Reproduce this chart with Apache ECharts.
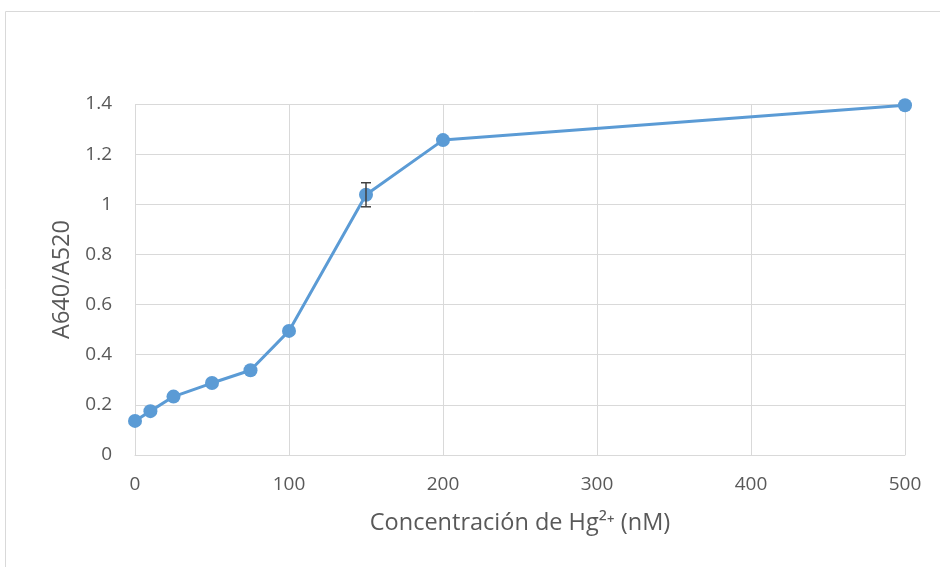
<!DOCTYPE html>
<html><head><meta charset="utf-8">
<script src="https://cdn.jsdelivr.net/npm/echarts@6/dist/echarts.min.js"></script>
<style>html,body{margin:0;padding:0;background:#fff}#c{width:940px;height:567px}</style>
</head><body><div id="c"></div>
<script>
const concentrations = [0, 10, 25, 50, 75, 100, 150, 200, 500];
const ratios = [0.136, 0.175, 0.233, 0.287, 0.338, 0.495, 1.038, 1.256, 1.395];
const errors = [0, 0, 0, 0, 0, 0, 0.048, 0, 0];
const xTicks = [0, 100, 200, 300, 400, 500];
const yTicks = [0, 0.2, 0.4, 0.6, 0.8, 1, 1.2, 1.4];

const chart = echarts.init(document.getElementById('c'));
const font = '"Open Sans", "Liberation Sans", sans-serif';
const pts = concentrations.map((c, i) => [c, ratios[i]]);
const errData = concentrations.map((c, i) => [c, ratios[i] - errors[i], ratios[i] + errors[i]]).filter((d, i) => errors[i] > 0);

chart.setOption({
  animation: false,
  graphic: [{type: 'rect', shape: {x: 5.5, y: 11.5, width: 940, height: 570}, style: {fill: 'none', stroke: '#d9d9d9', lineWidth: 1}}],
  grid: {left: 135, right: 35, top: 104, bottom: 112},
  xAxis: {
    type: 'value', min: xTicks[0], max: xTicks[xTicks.length - 1], interval: 100,
    name: 'Concentración de Hg²⁺ (nM)', nameLocation: 'middle', nameGap: 56,
    nameTextStyle: {fontFamily: font, fontSize: 23.5, color: '#595959'},
    axisLine: {show: true, lineStyle: {color: '#d9d9d9', width: 1}},
    axisTick: {show: false},
    axisLabel: {fontFamily: font, fontSize: 19, color: '#595959', margin: 20},
    splitLine: {show: true, lineStyle: {color: '#d9d9d9', width: 1}}
  },
  yAxis: {
    type: 'value', min: yTicks[0], max: yTicks[yTicks.length - 1], interval: 0.2,
    name: 'A640/A520', nameLocation: 'middle', nameGap: 61, nameRotate: 90,
    nameTextStyle: {fontFamily: font, fontSize: 23.5, color: '#595959'},
    axisLine: {show: false}, axisTick: {show: false},
    axisLabel: {fontFamily: font, fontSize: 19, color: '#595959', margin: 23,
      formatter: v => String(Math.round(v * 10) / 10)},
    splitLine: {show: true, lineStyle: {color: '#d9d9d9', width: 1}}
  },
  series: [
    {
      type: 'line', data: pts, symbol: 'circle', symbolSize: 14,
      lineStyle: {color: '#5b9bd5', width: 3},
      itemStyle: {color: '#5b9bd5'}, z: 2
    },
    {
      type: 'custom', data: errData, z: 3,
      renderItem: (params, api) => {
        const x = api.value(0);
        const lo = api.coord([x, api.value(1)]);
        const hi = api.coord([x, api.value(2)]);
        const w = 5;
        const st = {stroke: '#404040', lineWidth: 1.5};
        return {type: 'group', children: [
          {type: 'line', shape: {x1: lo[0], y1: lo[1], x2: hi[0], y2: hi[1]}, style: st},
          {type: 'line', shape: {x1: lo[0] - w, y1: lo[1], x2: lo[0] + w, y2: lo[1]}, style: st},
          {type: 'line', shape: {x1: hi[0] - w, y1: hi[1], x2: hi[0] + w, y2: hi[1]}, style: st}
        ]};
      }
    }
  ]
});
</script></body></html>
